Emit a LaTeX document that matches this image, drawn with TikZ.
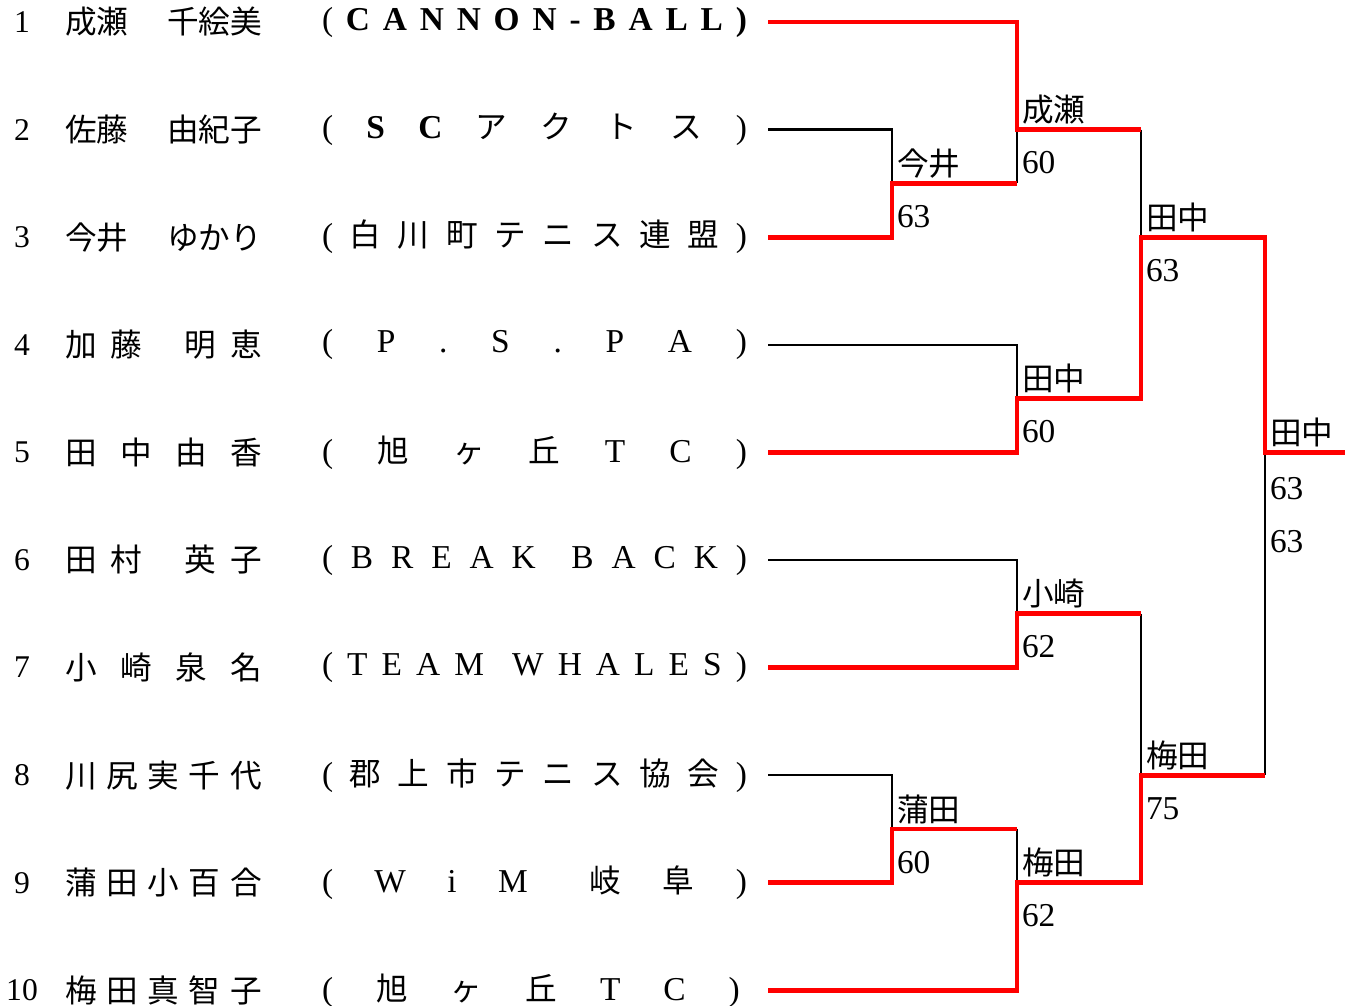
\documentclass[tikz,border=0pt]{standalone}
\usepackage{fontspec}
\setmainfont{Noto Sans CJK JP}
\newfontfamily\lat{Liberation Serif}
\newcommand{\latsz}{\lat\fontsize{19}{22}\selectfont}
\newcommand{\latbf}{\lat\bfseries\fontsize{19}{22}\selectfont}
\newcommand{\lp}{{\latsz(}}
\newcommand{\rp}{{\latsz)}}
\newcommand{\gapfill}[1][2]{\hspace{0pt plus #1fill}}

\begin{document}
\begin{tikzpicture}[x=0.02cm, y=-0.02cm,
    every node/.style={inner sep=0pt, outer sep=0pt, font=\fontsize{18}{22}\selectfont},
    num/.style={font=\lat\fontsize{18}{20}\selectfont},
    player/.style={anchor=west},
    lost/.style={draw=black, line width=1.4pt},
    won/.style={draw=red, line width=2.8pt},
    wname/.style={anchor=base west, xshift=0.1cm, yshift=0.16cm},
    wscore/.style={anchor=north west, xshift=0.1cm, yshift=-0.44cm, align=left, font=\lat\fontsize{19}{30}\selectfont}]
    \useasboundingbox (0,0) rectangle (1357,1006);

    % players
    \foreach \i/\nm/\cl in {
        1/{成瀬\hfill 千絵美}/{\latsz(\hfill\latbf C\hfill A\hfill N\hfill N\hfill O\hfill N\hfill -\hfill B\hfill A\hfill L\hfill L\hfill\latsz )},
        2/{佐藤\hfill 由紀子}/{\lp\hfill{\latbf S}\hfill{\latbf C}\hfill ア\hfill ク\hfill ト\hfill ス\hfill\rp},
        3/{今井\hfill ゆかり}/{\lp\hfill 白\hfill 川\hfill 町\hfill テ\hfill ニ\hfill ス\hfill 連\hfill 盟\hfill\rp},
        4/{加\hfill 藤\gapfill[3]明\hfill 恵}/{\latsz(\hfill P\hfill .\hfill S\hfill .\hfill P\hfill A\hfill )},
        5/{田\hfill 中\hfill 由\hfill 香}/{\lp\hfill 旭\hfill ヶ\hfill 丘\hfill{\latsz T}\hfill{\latsz C}\hfill\rp},
        6/{田\hfill 村\gapfill[3]英\hfill 子}/{\latsz(\hfill B\hfill R\hfill E\hfill A\hfill K\gapfill B\hfill A\hfill C\hfill K\hfill )},
        7/{小\hfill 崎\hfill 泉\hfill 名}/{\latsz(\hfill T\hfill E\hfill A\hfill M\gapfill W\hfill H\hfill A\hfill L\hfill E\hfill S\hfill )},
        8/{川\hfill 尻\hfill 実\hfill 千\hfill 代}/{\lp\hfill 郡\hfill 上\hfill 市\hfill テ\hfill ニ\hfill ス\hfill 協\hfill 会\hfill\rp},
        9/{蒲\hfill 田\hfill 小\hfill 百\hfill 合}/{\lp\hfill{\latsz W}\hfill{\latsz i}\hfill{\latsz M}\gapfill[1.5]岐\hfill 阜\hfill\rp},
        10/{梅\hfill 田\hfill 真\hfill 智\hfill 子}/{\lp\hfill 旭\hfill ヶ\hfill 丘\hfill{\latsz T}\hfill{\latsz C}\hfill\rp}
    }{
        \node[num] (n\i) at (22,{22+107.6*(\i-1)}) {\i};
        \node[player] (p\i) at (65,{22+107.6*(\i-1)}) {\makebox[3.94cm]{\nm}};
        \node[player] (c\i) at (322,{22+107.6*(\i-1)}) {\makebox[8.5cm]{\cl}};
        \coordinate (e\i) at (768,{22+107.6*(\i-1)});
    }

    % matches
    \coordinate (mA) at (892,183.4);
    \coordinate (mB) at (1017,129.6);
    \coordinate (mC) at (1017,398.6);
    \coordinate (mD) at (1141,237.2);
    \coordinate (mE) at (1017,613.8);
    \coordinate (mF) at (892,829);
    \coordinate (mG) at (1017,882.8);
    \coordinate (mH) at (1141,775.2);
    \coordinate (mI) at (1265,452.4);
    \coordinate (fin) at (1345,452.4);

    % losing sides
    \draw[lost] (e2) -| (mA);
    \draw[lost] (e4) -| (mC);
    \draw[lost] (e6) -| (mE);
    \draw[lost] (e8) -| (mF);
    \draw[lost] (mA -| mB) -- (mB);
    \draw[lost] (mB -| mD) -- (mD);
    \draw[lost] (mF -| mG) -- (mG);
    \draw[lost] (mE -| mH) -- (mH);
    \draw[lost] (mH -| mI) -- (mI);

    % winning sides
    \draw[won] (e1) -| (mB) -- (mB -| mD);
    \draw[won] (e3) -| (mA) -- (mA -| mB);
    \draw[won] (e5) -| (mC) -- (mC -| mD) -- (mD) -- (mD -| mI) -- (mI) -- (fin);
    \draw[won] (e7) -| (mE) -- (mE -| mH);
    \draw[won] (e9) -| (mF) -- (mF -| mG);
    \draw[won] (e10) -| (mG) -- (mG -| mH) -- (mH) -- (mH -| mI);

    % results
    \node[wname] (wA) at (mA) {今井};
    \node[wscore] (sA) at (mA) {63};
    \node[wname] (wB) at (mB) {成瀬};
    \node[wscore] (sB) at (mB) {60};
    \node[wname] (wC) at (mC) {田中};
    \node[wscore] (sC) at (mC) {60};
    \node[wname] (wD) at (mD) {田中};
    \node[wscore] (sD) at (mD) {63};
    \node[wname] (wE) at (mE) {小崎};
    \node[wscore] (sE) at (mE) {62};
    \node[wname] (wF) at (mF) {蒲田};
    \node[wscore] (sF) at (mF) {60};
    \node[wname] (wG) at (mG) {梅田};
    \node[wscore] (sG) at (mG) {62};
    \node[wname] (wH) at (mH) {梅田};
    \node[wscore] (sH) at (mH) {75};
    \node[wname] (wI) at (mI) {田中};
    \node[wscore, yshift=-0.06cm] (sI) at (mI) {63\\63};
\end{tikzpicture}
\end{document}
